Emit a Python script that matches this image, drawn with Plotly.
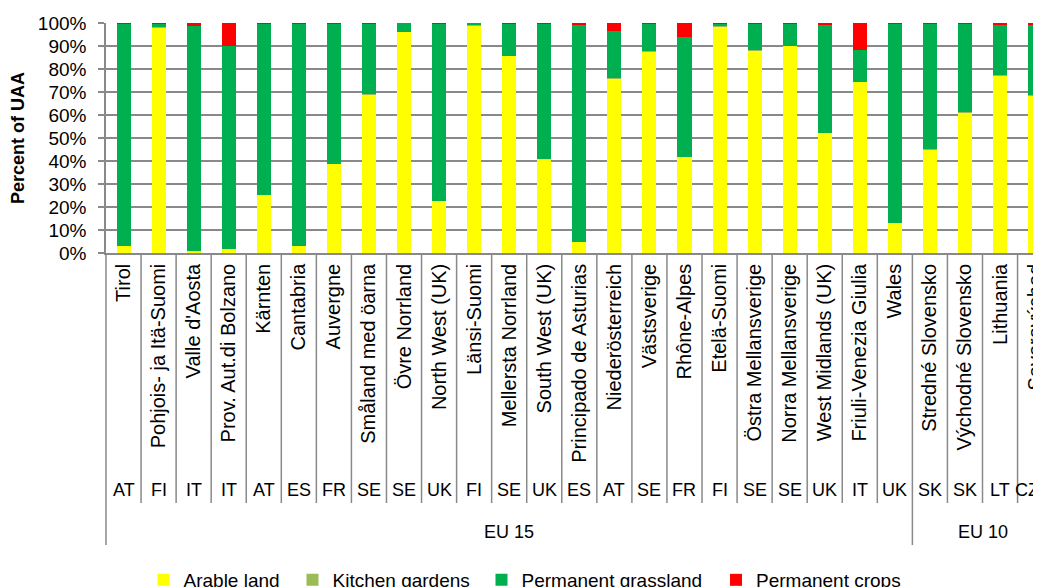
import plotly.graph_objects as go

categories = ["Tirol", "Pohjois- ja Itä-Suomi", "Valle d'Aosta", "Prov. Aut.di Bolzano", "Kärnten",
              "Cantabria", "Auvergne", "Småland med öarna", "Övre Norrland", "North West (UK)",
              "Länsi-Suomi", "Mellersta Norrland", "South West (UK)", "Principado de Asturias",
              "Niederösterreich", "Västsverige", "Rhône-Alpes", "Etelä-Suomi", "Östra Mellansverige",
              "Norra Mellansverige", "West Midlands (UK)", "Friuli-Venezia Giulia", "Wales",
              "Stredné Slovensko", "Východné Slovensko", "Lithuania", "Severovýchod"]
countries = ["AT", "FI", "IT", "IT", "AT", "ES", "FR", "SE", "SE", "UK", "FI", "SE", "UK", "ES",
             "AT", "SE", "FR", "FI", "SE", "SE", "UK", "IT", "UK", "SK", "SK", "LT", "CZ"]
group_names = ["EU 15", "EU 10"]
group_sizes = [23, 4]

arable = [3.0, 98.0, 0.9, 1.9, 25.1, 2.9, 38.7, 68.9, 96.0, 22.6, 99.0, 85.5, 40.9, 4.9,
          75.9, 87.8, 41.9, 98.3, 88.0, 90.0, 52.2, 74.3, 13.0, 45.0, 60.9, 77.1, 68.4]
kitchen = [0.0, 0.1, 0.0, 0.0, 0.0, 0.0, 0.0, 0.1, 0.0, 0.0, 0.2, 0.0, 0.0, 0.0,
           0.1, 0.1, 0.0, 0.2, 0.1, 0.1, 0.0, 0.0, 0.0, 0.2, 0.2, 0.2, 0.2]
grassland = [96.7, 1.7, 97.7, 88.0, 74.7, 97.0, 61.1, 30.9, 4.0, 77.3, 0.8, 14.4, 59.0, 94.2,
             20.4, 12.0, 52.0, 1.4, 11.8, 9.8, 46.9, 14.0, 86.9, 54.5, 38.6, 22.0, 30.6]
crops = [0.3, 0.2, 1.4, 10.1, 0.2, 0.1, 0.2, 0.1, 0.0, 0.1, 0.0, 0.1, 0.1, 0.9,
         3.6, 0.1, 6.1, 0.1, 0.1, 0.1, 0.9, 11.7, 0.1, 0.3, 0.3, 0.7, 0.8]

series = [("Arable land", arable, "#FFFF00"),
          ("Kitchen gardens", kitchen, "#9BBB59"),
          ("Permanent grassland", grassland, "#00B050"),
          ("Permanent crops", crops, "#FF0000")]

# page body has an 8px margin: size the figure so it ends at the window edge
OFF = 8
W, H = 1041 - OFF, 587 - OFF
ML, MT, MR = 106 - OFF, 23 - OFF, 0
MB = H - (253 - OFF)
FONT = "Liberation Sans, Arial, sans-serif"
GRID = "#898989"

x_idx = list(range(len(categories)))
slot_px = 35.06
r0 = -0.5
r1 = r0 + (W - ML - MR) / slot_px

fig = go.Figure()
legend_x = [143.5, 292.5, 481.5, 716]
for i, (name, vals, col) in enumerate(series):
    lg = "legend" if i == 0 else f"legend{i+1}"
    fig.add_trace(go.Bar(x=x_idx, y=vals, name=name, marker=dict(color=col, line=dict(width=0)),
                         legend=lg))

fig.update_layout(
    width=W, height=H, barmode="stack", bargap=0.6,
    margin=dict(l=ML, r=MR, t=MT, b=MB, pad=0, autoexpand=False),
    plot_bgcolor="white", paper_bgcolor="white",
    font=dict(family=FONT, size=18, color="black"),
    xaxis=dict(range=[r0, r1], tickmode="array", tickvals=x_idx, ticktext=categories,
               tickangle=-90, showgrid=False, showline=True, linecolor=GRID, linewidth=1.5,
               ticks="", tickfont=dict(size=20, family=FONT, color="black"), automargin=False,
               ticklabelstandoff=1, ticklabeloverflow="allow"),
    yaxis=dict(range=[0, 100], dtick=10, ticksuffix="%", showgrid=True, gridcolor=GRID,
               gridwidth=1.5, showline=True, linecolor=GRID, linewidth=1.5, ticks="outside",
               ticklen=6, tickcolor=GRID, tickwidth=1.5, zeroline=False, automargin=False,
               tickfont=dict(size=19, family=FONT, color="black"), ticklabelstandoff=8,
               title=dict(text="<b>Percent of UAA</b>", standoff=10,
                          font=dict(size=18, family=FONT, color="black"))),
    showlegend=True,
)
for i, lx in enumerate(legend_x):
    key = "legend" if i == 0 else f"legend{i+1}"
    fig.update_layout({key: dict(orientation="h", x=(lx - OFF) / W, xref="container",
                                 xanchor="left", y=1 - (561 - OFF) / H, yref="container",
                                 yanchor="top", bgcolor="rgba(0,0,0,0)", borderwidth=0,
                                 font=dict(size=19, family=FONT, color="black"))})

plot_h = H - MT - MB
def py(pix):
    return (H - MB - (pix - OFF)) / plot_h

def px(xval):
    return (xval - r0) / (r1 - r0)

boundaries_group = []
acc = 0
for s in group_sizes:
    acc += s
    boundaries_group.append(acc - 0.5)
shapes = []
for b in range(0, len(categories) + 1):
    xv = b - 0.5
    if xv > r1:
        continue
    long = (b == 0) or (xv in boundaries_group)
    shapes.append(dict(type="line", xref="paper", yref="paper", x0=px(xv), x1=px(xv),
                       y0=0, y1=py(545 if long else 503), line=dict(color=GRID, width=1.5)))
fig.update_layout(shapes=shapes)

anns = []
for i, c in enumerate(countries):
    overflow = i + 0.5 > r1
    anns.append(dict(x=r1 if overflow else i, y=py(490), xref="x", yref="paper", text=c,
                     showarrow=False, xanchor="right" if overflow else "center",
                     yanchor="middle", font=dict(size=18, family=FONT)))
start = 0
for g, s in zip(group_names, group_sizes):
    anns.append(dict(x=start + (s - 1) / 2, y=py(532), xref="x", yref="paper", text=g,
                     showarrow=False, xanchor="center", yanchor="middle",
                     font=dict(size=18, family=FONT)))
    start += s
fig.update_layout(annotations=anns)

fig.write_html("out.html")
